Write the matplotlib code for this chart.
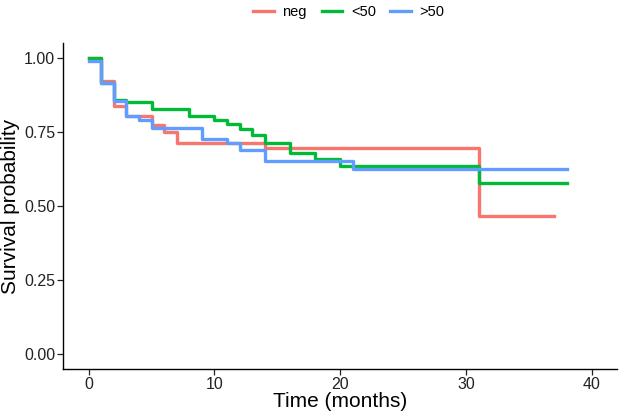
import matplotlib
matplotlib.use("Agg")
import matplotlib.pyplot as plt

# Kaplan-Meier step values
groups = ["neg", "<50", ">50"]
colors = ["#F8766D", "#00BA38", "#619CFF"]

t_neg = [0, 1, 2, 3, 5, 6, 7, 14, 31, 37]
s_neg = [1.0, 0.923, 0.837, 0.803, 0.775, 0.75, 0.715, 0.698, 0.467, 0.467]

t_lt50 = [0, 1, 2, 3, 5, 8, 10, 11, 12, 13, 14, 16, 18, 20, 31, 38]
s_lt50 = [1.0, 0.916, 0.859, 0.853, 0.829, 0.805, 0.79, 0.778, 0.76, 0.739,
          0.712, 0.679, 0.658, 0.637, 0.579, 0.579]

t_gt50 = [0, 1, 2, 3, 4, 5, 9, 11, 12, 14, 21, 38]
s_gt50 = [0.99, 0.916, 0.856, 0.806, 0.79, 0.763, 0.726, 0.715, 0.69, 0.653,
          0.624, 0.624]

x_ticks = [0, 10, 20, 30, 40]
y_ticks = [0.0, 0.25, 0.5, 0.75, 1.0]

plt.rcParams['font.family'] = ['Liberation Sans', 'DejaVu Sans']

fig = plt.figure(figsize=(6.22, 4.17), dpi=100)
ax = fig.add_axes([0.102, 0.115, 0.89, 0.781])

series = [(t_neg, s_neg), (t_lt50, s_lt50), (t_gt50, s_gt50)]
for (t, s), name, col in zip(series, groups, colors):
    ax.step(t, s, where='post', color=col, lw=2.4, label=name)

ax.set_xlim(-2, 42)
ax.set_ylim(-0.05, 1.05)
ax.set_xticks(x_ticks)
ax.set_yticks(y_ticks)
ax.set_yticklabels(["%.2f" % v for v in y_ticks])
ax.tick_params(labelsize=11.5, colors='#222222', length=4, width=0.9, pad=2)

for side in ['top', 'right']:
    ax.spines[side].set_visible(False)
for side in ['left', 'bottom']:
    ax.spines[side].set_linewidth(1.0)
    ax.spines[side].set_color('black')

ax.set_xlabel("Time (months)", fontsize=15, labelpad=0)
ax.set_ylabel("Survival probability", fontsize=15, labelpad=3)

fig.legend(loc='center', bbox_to_anchor=(0.561, 0.972), ncol=3, frameon=False,
           fontsize=10.5, handlelength=1.4, columnspacing=1.0, handletextpad=0.6)

fig.savefig("out.png", dpi=100)
